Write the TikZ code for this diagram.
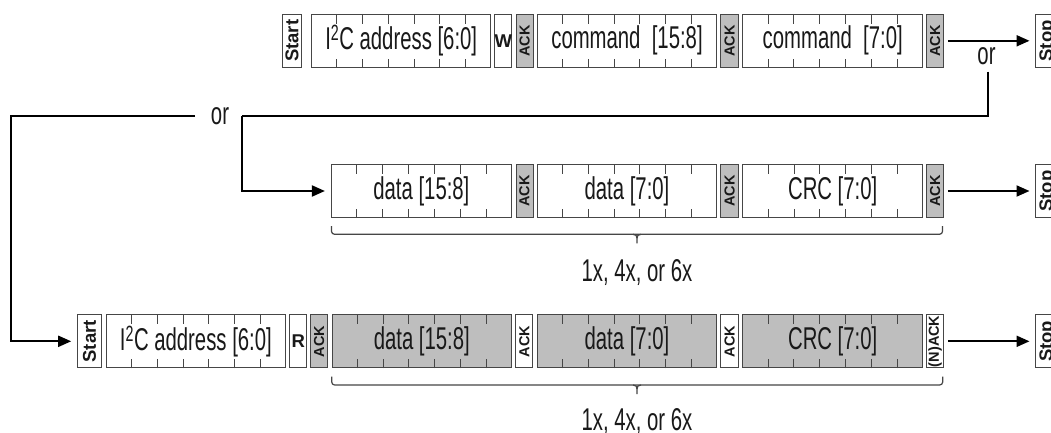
\documentclass[tikz,border=0pt]{standalone}
\usepackage{fontspec}
\setmainfont{Liberation Sans}
\newfontfamily\narrowf[FakeStretch=0.645]{Liberation Sans}
\usetikzlibrary{calc,arrows.meta}
\definecolor{bordc}{RGB}{70,70,70}
\definecolor{shade}{RGB}{190,190,190}
\definecolor{txtc}{RGB}{25,25,25}
\tikzset{
  fieldbox/.style={draw=bordc, line width=1pt, inner sep=0pt, minimum height=53pt, text=txtc},
  tickln/.style={draw=bordc, line width=0.9pt},
  mainlbl/.style={font=\narrowf\fontsize{31.5}{34}\selectfont, text=txtc, inner sep=1pt},
  acklbl/.style={font=\bfseries\fontsize{14.5}{16}\selectfont, text=txtc, inner sep=0pt, rotate=90},
  startlbl/.style={font=\bfseries\fontsize{18.5}{20}\selectfont, text=txtc, inner sep=0pt, rotate=90},
  rwlbl/.style={font=\bfseries\fontsize{18.5}{20}\selectfont, text=txtc, inner sep=0pt},
  conn/.style={draw=black, line width=2pt, line join=miter},
  arr/.style={conn, -{Triangle[length=13pt,width=11pt]}},
  bracep/.style={draw=bordc, line width=1.2pt},
}
% big field: name, xc, yc, width, fill, text
\newcommand{\fieldB}[6]{%
  \node[fieldbox, fill=#5, minimum width=#4] (#1) at (#2,#3) {};
  \node[mainlbl] (#1t) at (#1.center) {#6};
  \foreach \k in {1,...,6}{%
    \draw[tickln] ($(#1.north west)!\k/7!(#1.north east)$) -- ++(0,10);
    \draw[tickln] ($(#1.south west)!\k/7!(#1.south east)$) -- ++(0,-9);
  }}
% small field: name, xc, yc, width, fill, text, label style
\newcommand{\fieldS}[7]{%
  \node[fieldbox, fill=#5, minimum width=#4] (#1) at (#2,#3) {};
  \node[#7] (#1t) at (#1.center) {#6};}
% brace: xl, xr, xc, yline
\newcommand{\repbrace}[4]{%
  \draw[bracep, rounded corners=3] (#1,#4-8.3) -- (#1,#4) -- (#2,#4) -- (#2,#4-8.3);
  \draw[bracep] (#3-4,#4) .. controls (#3-1,#4) and (#3,#4+1.5) .. (#3,#4+4) -- (#3,#4+9);
  \draw[bracep] (#3+4,#4) .. controls (#3+1,#4) and (#3,#4+1.5) .. (#3,#4+4);}
\begin{document}
\begin{tikzpicture}[x=1pt,y=-1pt]
\useasboundingbox (0,0) rectangle (1051,433);
\clip (0,0) rectangle (1051,433);
\fill[white] (0,0) rectangle (1051,433);

% ---------- row 1 ----------
\def\ya{40.8}
\fieldS{s1}{292}{\ya}{19.4}{white}{Start}{startlbl}
\fieldB{a1}{401.2}{\ya}{179}{white}{I\textsuperscript{2}C address [6:0]}
\fieldS{w1}{503.3}{\ya}{16.7}{white}{W}{rwlbl}
\fieldS{k1}{524.7}{\ya}{17.3}{shade}{ACK}{acklbl}
\fieldB{c1}{627}{\ya}{179.4}{white}{command\ \ [15:8]}
\fieldS{k2}{729.5}{\ya}{17.6}{shade}{ACK}{acklbl}
\fieldB{c2}{832.7}{\ya}{180}{white}{command\ \ [7:0]}
\fieldS{k3}{935}{\ya}{16.6}{shade}{ACK}{acklbl}
\fieldS{p1}{1047.7}{\ya}{24.4}{white}{Stop}{startlbl}

% ---------- row 2 ----------
\def\yb{191}
\fieldB{d1}{421.4}{\yb}{180}{white}{data [15:8]}
\fieldS{k4}{524.5}{\yb}{17}{shade}{ACK}{acklbl}
\fieldB{d2}{627}{\yb}{179.4}{white}{data [7:0]}
\fieldS{k5}{729.6}{\yb}{17.3}{shade}{ACK}{acklbl}
\fieldB{r2}{832.7}{\yb}{179.6}{white}{CRC [7:0]}
\fieldS{k6}{935}{\yb}{16.6}{shade}{ACK}{acklbl}
\fieldS{p2}{1047.7}{\yb}{24.4}{white}{Stop}{startlbl}

% ---------- row 3 ----------
\def\yc{341.3}
\fieldS{s3}{89.5}{\yc}{24.4}{white}{Start}{startlbl}
\fieldB{a3}{195.9}{\yc}{179.7}{white}{I\textsuperscript{2}C address [6:0]}
\fieldS{rr}{298.3}{\yc}{16.7}{white}{R}{rwlbl}
\fieldS{k7}{319.2}{\yc}{17}{shade}{ACK}{acklbl}
\fieldB{d3}{421.8}{\yc}{179.6}{shade}{data [15:8]}
\fieldS{k8}{524.3}{\yc}{16.7}{white}{ACK}{acklbl}
\fieldB{d4}{627}{\yc}{179.4}{shade}{data [7:0]}
\fieldS{k9}{729.5}{\yc}{17.6}{white}{ACK}{acklbl}
\fieldB{r3}{832.7}{\yc}{180}{shade}{CRC [7:0]}
\fieldS{n3}{935}{\yc}{16.6}{white}{(N)ACK}{acklbl}
\fieldS{p3}{1047.7}{\yc}{24.4}{white}{Stop}{startlbl}

% ---------- "or" labels and connectors ----------
\node[mainlbl] (or1) at (986.5,56) {or};
\node[mainlbl] (or2) at (220,116.5) {or};
\coordinate (j1) at (987.7,71.7);
\coordinate (jc) at (242.3,116);
\coordinate (b1) at (195,116);
\coordinate (bl) at (11,116);

\draw[arr, shorten <=4pt, shorten >=5.5pt] (k3.east) -- (p1.west);
\draw[arr, shorten <=4pt, shorten >=5.5pt] (k6.east) -- (p2.west);
\draw[arr, shorten <=4pt, shorten >=5.5pt] (n3.east) -- (p3.west);
\draw[conn] (j1) |- (jc);
\draw[arr, shorten >=6pt] (jc) |- (d1.west);
\draw[arr, shorten >=5.6pt] (b1) -- (bl) |- (s3.west);

% ---------- repetition braces ----------
\repbrace{331.5}{942.5}{637}{234.3}
\node[mainlbl] (rep2) at (637,273) {1x, 4x, or 6x};
\repbrace{331.7}{942.7}{637}{385}
\node[mainlbl] (rep3) at (637,422) {1x, 4x, or 6x};
\end{tikzpicture}
\end{document}
